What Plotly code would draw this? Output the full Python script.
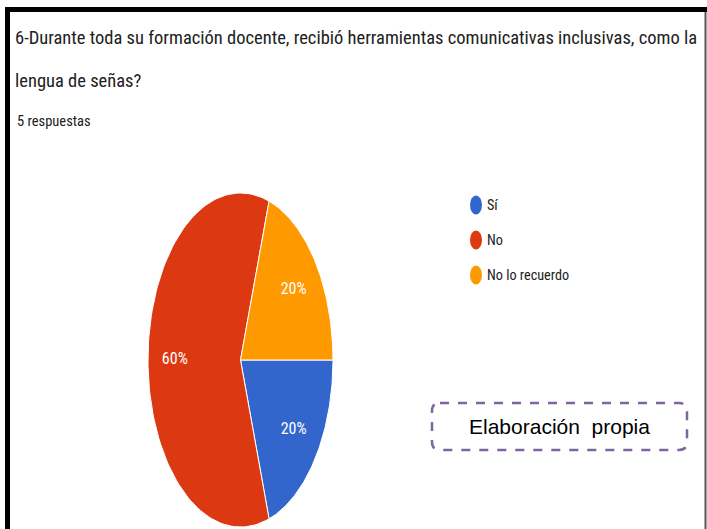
import numpy as np
import plotly.graph_objects as go

# ---- data ----
title_line1 = "6-Durante toda su formación docente, recibió herramientas comunicativas inclusivas, como la"
title_line2 = "lengua de señas?"
subtitle = "5 respuestas"
labels = ["Sí", "No", "No lo recuerdo"]
counts = [1, 3, 1]
colors = ["#3366cc", "#dc3912", "#ff9900"]
note_text = "Elaboración  propia"

W, H = 707, 529
NARROW = "Roboto Condensed, Arial Narrow, Liberation Sans Narrow, Roboto, sans-serif"

def px(x):
    return x / W

def py(y):
    return 1 - y / H

fig = go.Figure()

total = sum(counts)
cum = 0.0
label_x, label_y, label_t = [], [], []
for lab, c, col in zip(labels, counts, colors):
    a0 = -2 * np.pi * cum / total
    a1 = -2 * np.pi * (cum + c) / total
    th = np.linspace(a0, a1, 120)
    xs = np.concatenate([[0], np.cos(th), [0]])
    ys = np.concatenate([[0], np.sin(th), [0]])
    fig.add_trace(go.Scatter(x=xs, y=ys, mode="lines", fill="toself",
                             fillcolor=col, line=dict(color="white", width=1),
                             hoverinfo="text", text=lab, showlegend=False))
    am = (a0 + a1) / 2
    label_x.append(0.71 * np.cos(am))
    label_y.append(0.71 * np.sin(am))
    label_t.append(f"{round(100 * c / total)}%")
    cum += c

fig.add_trace(go.Scatter(x=label_x, y=label_y, mode="text", text=label_t,
                         textfont=dict(family=NARROW, size=16, color="white"),
                         hoverinfo="skip", showlegend=False))

fig.update_xaxes(domain=[px(148), px(333)], range=[-1, 1], visible=False, fixedrange=True)
fig.update_yaxes(domain=[py(527), py(193)], range=[-1, 1], visible=False, fixedrange=True)

annotations = [
    dict(x=px(13), y=py(38), text=title_line1, font=dict(family=NARROW, size=18.5, color="#212121")),
    dict(x=px(13), y=py(81), text=title_line2, font=dict(family=NARROW, size=18.5, color="#212121")),
    dict(x=px(15), y=py(122), text=subtitle, font=dict(family=NARROW, size=14.5, color="#212121")),
]
shapes = []
leg_y = [205, 240, 275]
for lab, col, yy in zip(labels, colors, leg_y):
    shapes.append(dict(type="circle", xref="paper", yref="paper",
                       x0=px(470), x1=px(482), y0=py(yy + 9.5), y1=py(yy - 9.5),
                       fillcolor=col, line=dict(width=0)))
    annotations.append(dict(x=px(485), y=py(yy), text=lab,
                            font=dict(family=NARROW, size=14.2, color="#222222")))
for a in annotations:
    a.update(xref="paper", yref="paper", xanchor="left", yanchor="middle", showarrow=False)

# note box with rounded corners
bx0, bx1, by0, by1, r = 432, 687, 403, 450, 8
path = (f"M {px(bx0 + r)},{py(by0)} L {px(bx1 - r)},{py(by0)} "
        f"Q {px(bx1)},{py(by0)} {px(bx1)},{py(by0 + r)} "
        f"L {px(bx1)},{py(by1 - r)} Q {px(bx1)},{py(by1)} {px(bx1 - r)},{py(by1)} "
        f"L {px(bx0 + r)},{py(by1)} Q {px(bx0)},{py(by1)} {px(bx0)},{py(by1 - r)} "
        f"L {px(bx0)},{py(by0 + r)} Q {px(bx0)},{py(by0)} {px(bx0 + r)},{py(by0)} Z")
shapes.append(dict(type="path", xref="paper", yref="paper", path=path,
                   line=dict(color="#8064a2", width=2.5, dash="dash")))
annotations.append(dict(x=px((bx0 + bx1) / 2), y=py((by0 + by1) / 2), text=note_text,
                        xref="paper", yref="paper", xanchor="center", yanchor="middle",
                        showarrow=False,
                        font=dict(family="Liberation Sans, Arial, sans-serif", size=21, color="black")))

# frame
shapes += [
    dict(type="line", xref="paper", yref="paper", x0=px(5), x1=px(707), y0=py(9.5), y1=py(9.5),
         line=dict(color="black", width=5)),
    dict(type="line", xref="paper", yref="paper", x0=px(7.5), x1=px(7.5), y0=py(7), y1=py(529),
         line=dict(color="black", width=5)),
    dict(type="line", xref="paper", yref="paper", x0=px(705.5), x1=px(705.5), y0=py(12), y1=py(529),
         line=dict(color="#555555", width=2)),
]

fig.update_layout(width=W, height=H, margin=dict(l=0, r=0, t=0, b=0),
                  paper_bgcolor="white", plot_bgcolor="rgba(0,0,0,0)",
                  annotations=annotations, shapes=shapes, showlegend=False)

fig.write_html("out.html", config={"displayModeBar": False},
               post_script="document.body.style.margin='0px';")
